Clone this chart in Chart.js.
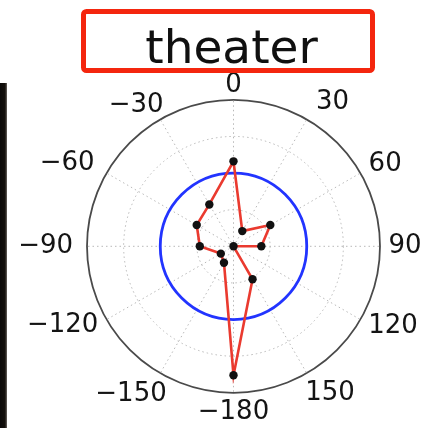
<!DOCTYPE html>
<html>
<head>
<meta charset="utf-8">
<title>theater</title>
<script src="https://cdn.jsdelivr.net/npm/chart.js@4/dist/chart.umd.min.js"></script>
<style>
  html, body { margin: 0; padding: 0; background: #fff; overflow: hidden; }
  #wrap { position: relative; width: 428px; height: 428px; }
  #wrap canvas { position: absolute; left: 0; top: 0; }
  /* dark strip of the neighbouring panel on the left */
  #edge { position: absolute; left: 0; top: 83px; width: 7px; height: 345px;
          background: linear-gradient(to right, #0b0908 0, #14100c 5px, #6a6560 7px); }
</style>
</head>
<body>
<div id="wrap">
  <canvas id="polar" width="428" height="428"></canvas>
  <div id="edge"></div>
</div>
<script>
// Panel title
const chartTitle = 'theater';

// Direction labels, clockwise from the top, in degrees
const angleLabels = ['0', '30', '60', '90', '120', '150', '\u2212180', '\u2212150', '\u2212120', '\u221290', '\u221260', '\u221230'];

// Response per direction (fraction of the outer ring)
const responseValues = [0.58, 0.12, 0.29, 0.19, 0.00, 0.26, 0.88, 0.13, 0.10, 0.23, 0.29, 0.33];

// Reference level drawn as the blue ring
const referenceLevel = 0.5;

// Radial axis range and ring spacing
const radialMax = 1;
const radialStep = 0.25;

// Per-label placement tweaks for the direction labels (padding and box height, px)
const labelPadding = [2, 18.5, 9.5, 8.5, 9, -3, 6, -13, 9.5, 14, 14, -6.5];
const labelBoxHeight = [26, 2, 9, 26, 3.5, 46, 26, 65, 2, 26, 6.5, 40];

const LABEL_FONT = 'DejaVu Sans';

// Fixed geometry of the polar axes inside the canvas
const polarGeometry = { x: 233.5, y: 246.3, radius: 146.5 };

const referenceRing = {
  id: 'referenceRing',
  beforeDatasetsDraw(chart) {
    const s = chart.scales.r;
    const ctx = chart.ctx;
    ctx.save();
    ctx.beginPath();
    ctx.arc(s.xCenter, s.yCenter, s.getDistanceFromCenterForValue(referenceLevel), 0, Math.PI * 2);
    ctx.strokeStyle = '#2234ff';
    ctx.lineWidth = 2.8;
    ctx.stroke();
    ctx.restore();
  }
};

const boxedTitle = {
  id: 'boxedTitle',
  afterDraw(chart) {
    const ctx = chart.ctx;
    ctx.save();
    // red frame
    const x = 83.5, y = 11.5, w = 289, h = 59, r = 3;
    ctx.beginPath();
    ctx.moveTo(x + r, y);
    ctx.arcTo(x + w, y, x + w, y + h, r);
    ctx.arcTo(x + w, y + h, x, y + h, r);
    ctx.arcTo(x, y + h, x, y, r);
    ctx.arcTo(x, y, x + w, y, r);
    ctx.closePath();
    ctx.strokeStyle = '#f4260e';
    ctx.lineWidth = 5;
    ctx.stroke();
    // title text
    ctx.fillStyle = '#101010';
    ctx.font = '47px "' + LABEL_FONT + '"';
    ctx.textAlign = 'center';
    ctx.textBaseline = 'alphabetic';
    ctx.fillText(chartTitle, 231.5, 63);
    ctx.restore();
  }
};

const isOuterRing = (c) => c.tick && c.tick.value === radialMax;

new Chart(document.getElementById('polar'), {
  type: 'radar',
  data: {
    labels: angleLabels,
    datasets: [{
      data: responseValues,
      borderColor: '#ea3a2f',
      borderWidth: 2.6,
      fill: false,
      tension: 0,
      pointRadius: 4.2,
      pointBackgroundColor: '#111',
      pointBorderColor: '#111',
      pointBorderWidth: 0
    }]
  },
  options: {
    responsive: false,
    devicePixelRatio: 1,
    animation: false,
    events: [],
    layout: { padding: 0 },
    plugins: {
      legend: { display: false },
      title: { display: false },
      tooltip: { enabled: false }
    },
    scales: {
      r: {
        min: 0,
        max: radialMax,
        startAngle: 0,
        ticks: { display: false, stepSize: radialStep },
        grid: {
          circular: true,
          color: (c) => isOuterRing(c) ? '#4a4a4a' : '#b8b8b8',
          lineWidth: (c) => isOuterRing(c) ? 1.8 : 1
        },
        border: {
          dash: (c) => isOuterRing(c) ? [] : [1.5, 3]
        },
        angleLines: {
          color: '#b8b8b8',
          lineWidth: 1,
          borderDash: [1.5, 3]
        },
        pointLabels: {
          display: true,
          color: '#141414',
          padding: (c) => labelPadding[c.index],
          font: (c) => ({ family: LABEL_FONT, size: 26, lineHeight: labelBoxHeight[c.index] + 'px' })
        },
        afterSetDimensions(scale) {
          scale.xCenter = polarGeometry.x;
          scale.yCenter = polarGeometry.y;
          scale.drawingArea = polarGeometry.radius;
        }
      }
    }
  },
  plugins: [referenceRing, boxedTitle]
});
</script>
</body>
</html>
